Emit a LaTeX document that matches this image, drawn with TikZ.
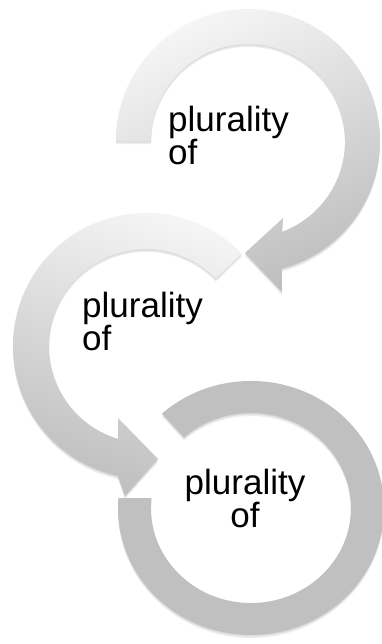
\documentclass[tikz,border=0pt]{standalone}
\usepackage{fontspec}
\setmainfont{Liberation Sans}
\definecolor{lite}{HTML}{F5F5F5}
\definecolor{darkgr}{HTML}{BEBEBE}
\definecolor{ringgray}{HTML}{C0C0C0}
\newcommand\arrowApath{(116,503) arc[start angle=180, end angle=-75.1, radius=132] -- (282,352) -- (245,391) -- (283,426) -- (282,412.1) arc[start angle=-69.5, end angle=180, radius=97] -- cycle}
\newcommand\arrowBpath{(241.7,390.4) arc[start angle=44, end angle=257.8, radius=133] -- (125,148) -- (158,185) -- (118,226) -- (118,205.1) arc[start angle=253.2, end angle=44, radius=97] -- cycle}
\newcommand\arrowCpath{(162.0,230.4) arc[start angle=132, end angle=-184.5, x radius=133, y radius=127] -- (151.5,145.9) arc[start angle=-186, end angle=132, x radius=100, y radius=95] -- cycle}
\tikzset{
  softshadow/.style={fill=black, opacity=0.07},
  label/.style={inner sep=0pt, font=\fontsize{35}{33}\selectfont, text=black}
}
\begin{document}
\begin{tikzpicture}[x=1pt, y=1pt]
\useasboundingbox (0,0) rectangle (382,644);
\fill[white] (0,0) rectangle (382,644);
% ring 3
\fill[softshadow, shift={(0,-3)}] \arrowCpath;
\fill[softshadow, shift={(0,-1.5)}] \arrowCpath;
\fill[ringgray] \arrowCpath;
% arrow 2
\fill[softshadow, shift={(0,-3)}] \arrowBpath;
\fill[softshadow, shift={(0,-1.5)}] \arrowBpath;
\shade[top color=lite, bottom color=darkgr, shading angle=-20] \arrowBpath;
% arrow 1
\fill[softshadow, shift={(0,-3)}] \arrowApath;
\fill[softshadow, shift={(0,-1.5)}] \arrowApath;
\shade[top color=lite, bottom color=darkgr, shading angle=25] \arrowApath;
% texts (base anchor = baseline of the last line)
\node[label, anchor=base west, align=left] (t1) at (168,479) {plurality\\of};
\node[label, anchor=base west, align=left] (t2) at (82,293) {plurality\\of};
\node[label, anchor=base, align=center] (t3) at (245,116) {plurality\\of};
\end{tikzpicture}
\end{document}
